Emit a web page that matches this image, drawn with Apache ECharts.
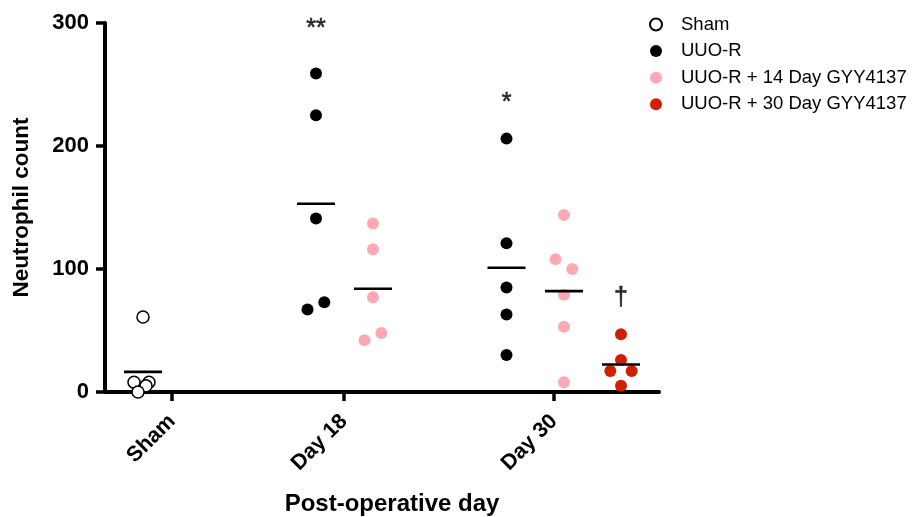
<!DOCTYPE html>
<html>
<head>
<meta charset="utf-8">
<script src="https://cdn.jsdelivr.net/npm/echarts@6/dist/echarts.min.js"></script>
<style>
html,body{margin:0;padding:0;background:#fff;}
#chart{width:914px;height:517px;}
</style>
</head>
<body>
<div id="chart"></div>
<script>
// ---- data ----
const categories = ['Sham', 'Day 18', 'Day 30'];
const yTicks = [0, 100, 200, 300];
const shamValues = [61, 8, 8, 5, 0];
const uuoDay18 = [259, 225, 141, 67, 73];
const uuoDay30 = [206, 121, 85, 63, 30];
const gyy14Day18 = [137, 116, 77, 42, 48];
const gyy14Day30 = [144, 108, 100, 79, 53, 8];
const gyy30Day30 = [47, 26, 17, 17, 5];
const seriesNames = ['Sham', 'UUO-R', 'UUO-R + 14 Day GYY4137', 'UUO-R + 30 Day GYY4137'];
const significance = [
  { text: '**', column: 'uuo18', y: 295 },
  { text: '*', column: 'uuo30', y: 235 },
  { text: '\u2020', column: 'gyy30_30', y: 76 }
];

// ---- layout (pixel units along x axis) ----
const colX = { sham: 38, uuo18: 211, gyy14_18: 268, uuo30: 401.5, gyy14_30: 459, gyy30_30: 516 };
const tickX = [67, 239, 449];
const jitter = {
  sham: [0, -9, 6, 3, -5],
  uuo18: [0, 0, 0, -8.5, 8.3],
  gyy14_18: [0, 0, 0, -8.5, 8.3],
  uuo30: [0, 0, 0, 0, 0],
  gyy14_30: [0, -8.5, 8.3, 0, 0, 0],
  gyy30_30: [0, 0, -10.7, 10.7, 0]
};
const colors = { sham: '#ffffff', uuo: '#000000', gyy14: '#FDA9B4', gyy30: '#D11F04' };
const FONT = 'Liberation Sans, Arial, Helvetica, sans-serif';

function pts(values, key) {
  return values.map((v, i) => [colX[key] + jitter[key][i], v]);
}
function mean(a) { return a.reduce((s, v) => s + v, 0) / a.length; }

const columns = [
  ['sham', shamValues], ['uuo18', uuoDay18], ['gyy14_18', gyy14Day18],
  ['uuo30', uuoDay30], ['gyy14_30', gyy14Day30], ['gyy30_30', gyy30Day30]
];
const meanData = columns.map(([k, v]) => [colX[k], mean(v)]);

const chart = echarts.init(document.getElementById('chart'), null, { renderer: 'canvas' });
chart.setOption({
  animation: false,
  backgroundColor: '#fff',
  textStyle: { fontFamily: FONT },
  grid: { left: 105, top: 23, width: 554, height: 369, containLabel: false, outerBoundsMode: 'none' },
  legend: {
    orient: 'vertical',
    left: 644, top: 10,
    itemWidth: 12, itemHeight: 12,
    itemGap: 7.6,
    icon: 'circle',
    data: seriesNames,
    textStyle: { fontFamily: FONT, fontSize: 18.5, color: '#000', padding: [0, 0, 0, 14] }
  },
  xAxis: {
    type: 'value', min: 0, max: 554,
    splitLine: { show: false },
    axisLine: { show: true, onZero: false, lineStyle: { color: '#000', width: 4 } },
    axisTick: { show: true, customValues: tickX, length: 9, inside: false, lineStyle: { color: '#000', width: 3.5 } },
    axisLabel: {
      show: true, customValues: tickX, rotate: 45, margin: 26,
      formatter: (v) => categories[tickX.indexOf(v)] || '',
      fontFamily: FONT, fontSize: 21.5, fontWeight: 'bold', color: '#000'
    },
    name: 'Post-operative day', nameLocation: 'middle', nameGap: 100,
    nameTextStyle: { fontFamily: FONT, fontSize: 24, fontWeight: 'bold', color: '#000', padding: [0, 0, 0, 20] }
  },
  yAxis: {
    type: 'value', min: 0, max: 300, interval: 100,
    splitLine: { show: false },
    axisLine: { show: true, lineStyle: { color: '#000', width: 4 } },
    axisTick: { show: true, length: 9, lineStyle: { color: '#000', width: 3.5 } },
    axisLabel: { margin: 16, fontFamily: FONT, fontSize: 22, fontWeight: 'bold', color: '#000',
      formatter: (v) => yTicks.includes(v) ? String(v) : '' },
    name: 'Neutrophil count', nameLocation: 'middle', nameRotate: 90, nameGap: 72,
    nameTextStyle: { fontFamily: FONT, fontSize: 22.5, fontWeight: 'bold', color: '#000' }
  },
  series: [
    { name: seriesNames[0], type: 'scatter', symbol: 'circle', symbolSize: 12, z: 3,
      itemStyle: { color: colors.sham, borderColor: '#000', borderWidth: 1.5, opacity: 1 },
      data: pts(shamValues, 'sham') },
    { name: seriesNames[1], type: 'scatter', symbol: 'circle', symbolSize: 12, z: 3,
      itemStyle: { color: colors.uuo, opacity: 1 },
      data: pts(uuoDay18, 'uuo18').concat(pts(uuoDay30, 'uuo30')) },
    { name: seriesNames[2], type: 'scatter', symbol: 'circle', symbolSize: 12, z: 3,
      itemStyle: { color: colors.gyy14, opacity: 1 },
      data: pts(gyy14Day18, 'gyy14_18').concat(pts(gyy14Day30, 'gyy14_30')) },
    { name: seriesNames[3], type: 'scatter', symbol: 'circle', symbolSize: 12, z: 3,
      itemStyle: { color: colors.gyy30, opacity: 1 },
      data: pts(gyy30Day30, 'gyy30_30') },
    { name: 'mean', type: 'scatter', symbol: 'rect', symbolSize: [38, 2.6], z: 5, silent: true,
      itemStyle: { color: '#000', opacity: 1 }, data: meanData },
    { name: 'sig', type: 'scatter', symbolSize: 0, z: 6, silent: true,
      data: significance.map(s => ({ value: [colX[s.column], s.y], name: s.text })),
      label: { show: true, position: 'inside', formatter: (p) => p.name,
        fontFamily: FONT, fontSize: 25, color: '#000', textBorderColor: '#000', textBorderWidth: 0.6 } }
  ]
});
</script>
</body>
</html>
